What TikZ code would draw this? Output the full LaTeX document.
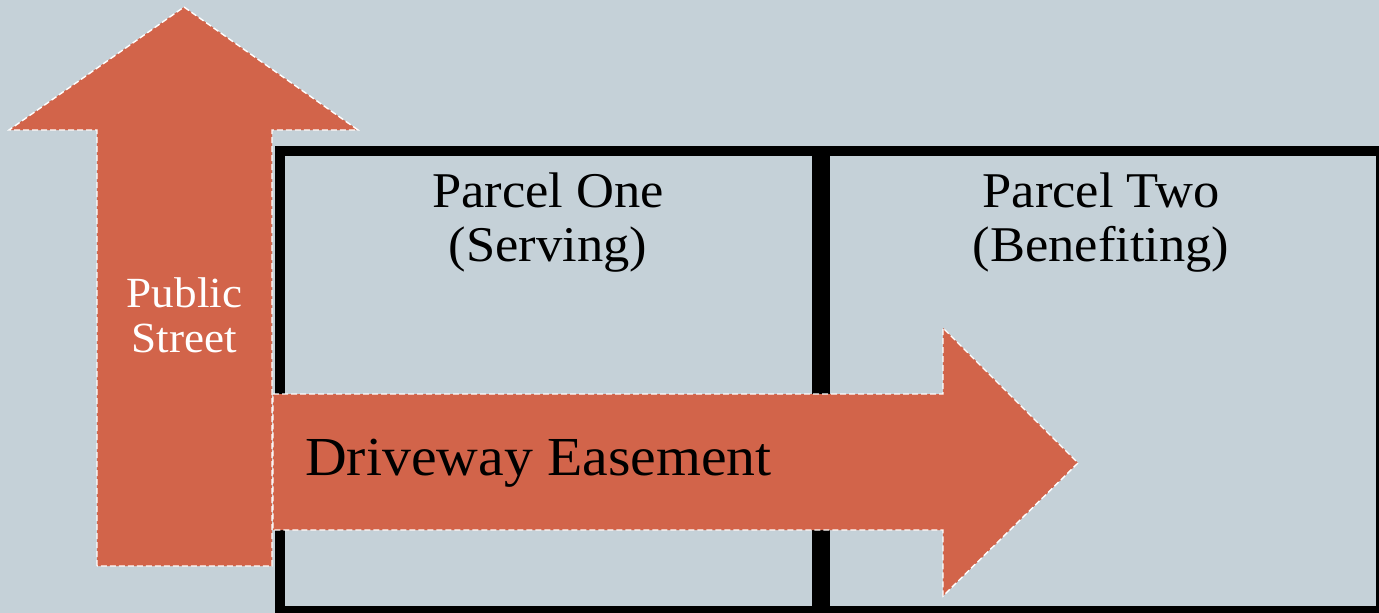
\documentclass[tikz,border=0pt]{standalone}
\usepackage{fontspec}
\setmainfont[FakeStretch=1.05]{Liberation Serif}
\definecolor{bg}{RGB}{197,209,216}
\definecolor{brick}{RGB}{210,100,74}
\tikzset{
  arrowshape/.style={fill=brick, draw=white, line width=1.4pt, dash pattern=on 6pt off 3pt},
  parcel/.style={draw=black, line width=10pt},
  parcellabel/.style={inner sep=0pt, align=center, anchor=base, font=\fontsize{50}{54}\selectfont},
}
\begin{document}
\begin{tikzpicture}[x=1pt,y=-1pt]
\useasboundingbox (0,0) rectangle (1379,613);
\fill[bg] (0,0) rectangle (1379,613);
\begin{scope}
\clip (0,0) rectangle (1379,613);
\draw[parcel] (280,150.5) rectangle (816.5,611);
\draw[parcel] (825,150.5) rectangle (1381,611);
% up arrow (public street)
\draw[arrowshape] (97,566) -- (97,130) -- (9,130) -- (184,7) -- (358,130) -- (272,130) -- (272,566) -- cycle;
% right arrow (driveway)
\draw[arrowshape] (273,394) -- (943,394) -- (943,328) -- (1078,463) -- (943,596) -- (943,530) -- (273,530) -- cycle;
\end{scope}
\node[parcellabel] (p1) at (548,261) {Parcel One\\(Serving)};
\node[parcellabel] (p2) at (1101,261) {Parcel Two\\(Benefiting)};
\node[inner sep=0pt, anchor=base west, font=\fontsize{55}{60}\selectfont] (de) at (305,475) {Driveway Easement};
\node[inner sep=0pt, anchor=base, align=center, text=white, font=\fontsize{43}{45}\selectfont] (ps) at (184.5,352) {Public\\Street};
\end{tikzpicture}
\end{document}
